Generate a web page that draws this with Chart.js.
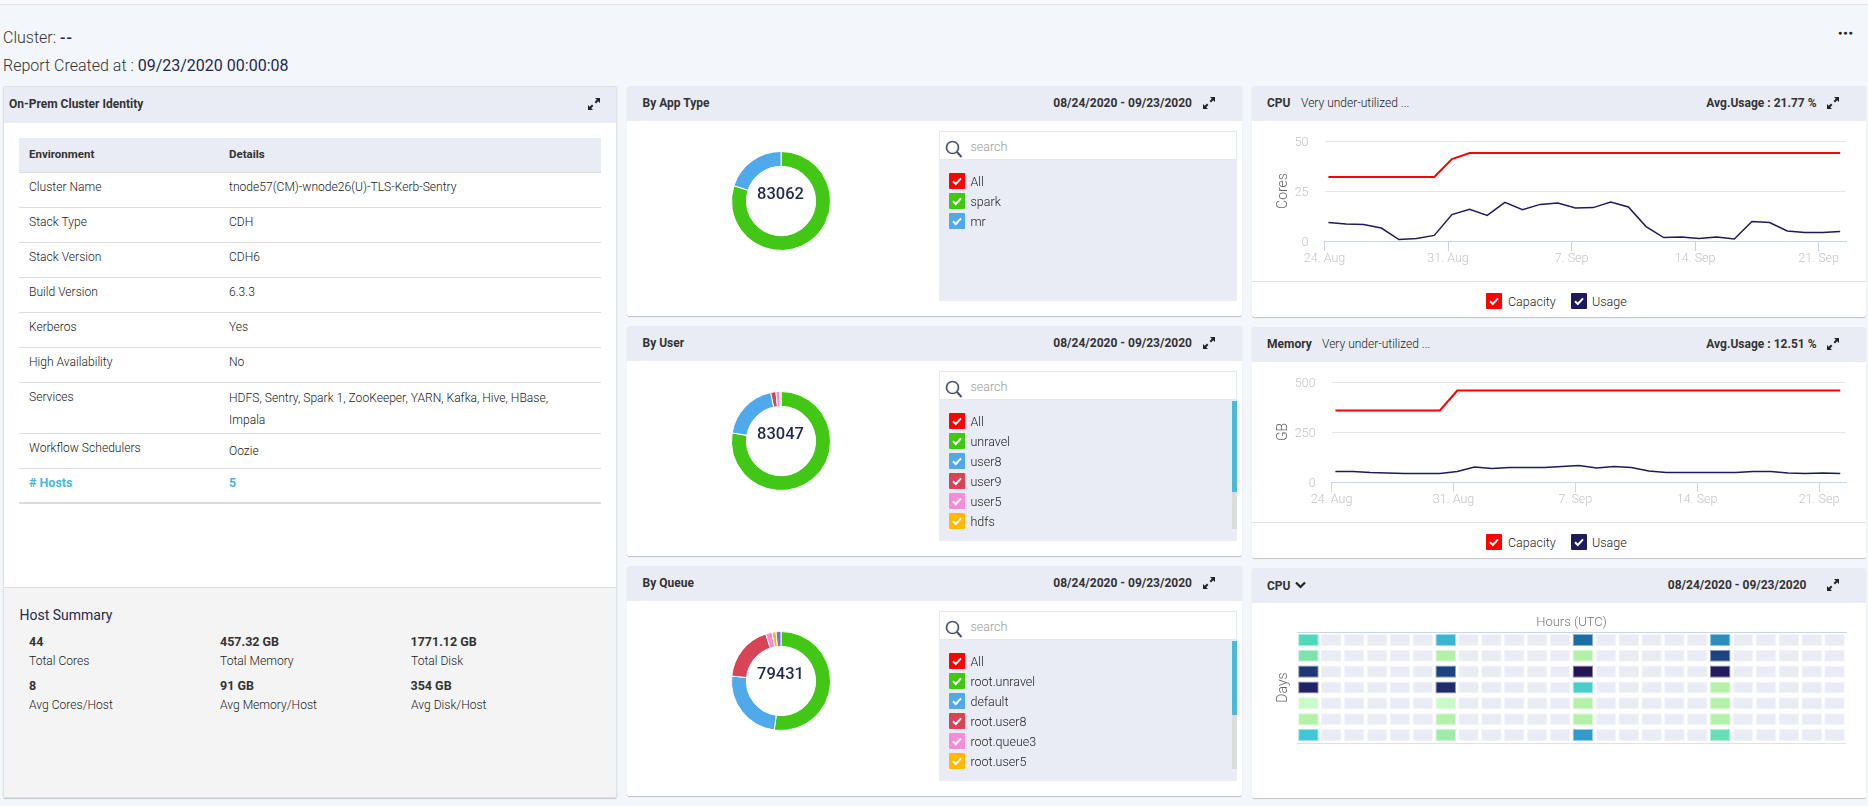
<!DOCTYPE html>
<html>
<head>
<meta charset="utf-8">
<title>Cluster report</title>
<script src="https://cdn.jsdelivr.net/npm/chart.js@4"></script>
<style>
  html, body { margin: 0; padding: 0; }
  body { width: 1868px; height: 806px; overflow: hidden; position: relative; background: #f3f6fa; font-family: Roboto, sans-serif; color: #333; }
  .abs { position: absolute; white-space: nowrap; line-height: 16px; }
  canvas { position: absolute; }
</style>
</head>
<body>
<script>
// Donut data
const appTypeLabels = ['spark', 'mr'];
const appTypeValues = [66450, 16612];
const userLabels = ['unravel', 'user8', 'user9', 'user5', 'hdfs'];
const userValues = [64450, 15820, 1410, 1080, 287];
const queueLabels = ['root.unravel', 'default', 'root.user8', 'root.queue3', 'root.user5'];
const queueValues = [41460, 19380, 14615, 1668, 1033];
const queueHiddenLabels = ['other'];
const queueHiddenValues = [1275];
const sliceColors = ['#43c717', '#4fa9ea', '#d64455', '#f78cd8', '#ffb900', '#7c6fd6'];

// Time series, day offset counted from 24 Aug
const pointDays = [0.22, 1.22, 2.22, 3.22, 4.22, 5.22, 6.22, 7.22, 8.22, 9.22, 10.22, 11.22, 12.22, 13.22, 14.22, 15.22, 16.22, 17.22, 18.22, 19.22, 20.22, 21.22, 22.22, 23.22, 24.22, 25.22, 26.22, 27.22, 28.22, 29.22];
const weekTicks = ['24. Aug', '31. Aug', '7. Sep', '14. Sep', '21. Sep'];
const cpuCapacity = [32, 32, 32, 32, 32, 32, 32, 41, 44, 44, 44, 44, 44, 44, 44, 44, 44, 44, 44, 44, 44, 44, 44, 44, 44, 44, 44, 44, 44, 44];
const cpuUsage = [9.3, 8.5, 8.2, 6.5, 0.7, 1.2, 2.8, 13.2, 15.8, 12.8, 19.3, 15.7, 18.3, 19, 16.5, 16.7, 19.5, 17, 7.2, 1.7, 2, 1.2, 2, 1, 9.8, 9.2, 5, 4.3, 4.2, 4.8];
const memCapacity = [358, 358, 358, 358, 358, 358, 358, 457, 457, 457, 457, 457, 457, 457, 457, 457, 457, 457, 457, 457, 457, 457, 457, 457, 457, 457, 457, 457, 457, 457];
const memUsage = [53, 52, 47, 45, 43, 43, 42, 53, 75, 67, 73, 72, 73, 77, 82, 70, 78, 73, 55, 47, 48, 48, 48, 48, 53, 53, 45, 43, 45, 43];

// Heatmap data, one list per row, null = no reading for that hour
const hourLabels = ['0', '1', '2', '3', '4', '5', '6', '7', '8', '9', '10', '11', '12', '13', '14', '15', '16', '17', '18', '19', '20', '21', '22', '23'];
const heatRow1 = [30, null, null, null, null, null, 44, null, null, null, null, null, 60, null, null, null, null, null, 53, null, null, null, null, null];
const heatRow2 = [20, null, null, null, null, null, 10, null, null, null, null, null, 10, null, null, null, null, null, 70, null, null, null, null, null];
const heatRow3 = [74, null, null, null, null, null, 70, null, null, null, null, null, 90, null, null, null, null, null, 85, null, null, null, null, null];
const heatRow4 = [80, null, null, null, null, null, 77, null, null, null, null, null, 35, null, null, null, null, null, 10, null, null, null, null, null];
const heatRow5 = [0, null, null, null, null, null, 0, null, null, null, null, null, 10, null, null, null, null, null, 10, null, null, null, null, null];
const heatRow6 = [10, null, null, null, null, null, 10, null, null, null, null, null, 10, null, null, null, null, null, 10, null, null, null, null, null];
const heatRow7 = [40, null, null, null, null, null, 14, null, null, null, null, null, 50, null, null, null, null, null, 25, null, null, null, null, null];

// Identity table
const envNames = ['Cluster Name', 'Stack Type', 'Stack Version', 'Build Version', 'Kerberos', 'High Availability'];
const envDetails = ['tnode57(CM)-wnode26(U)-TLS-Kerb-Sentry', 'CDH', 'CDH6', '6.3.3', 'Yes', 'No'];

Chart.defaults.font.family = 'Roboto, sans-serif';
Chart.defaults.animation = false;

const EXPAND = '<svg width="12" height="12" viewBox="0 0 12 12"><path d="M7 0h5v5L10.200 3.200 8 5.400 6.600 4 8.800 1.800zM5 12H0V7l1.800 1.800L4 6.600 5.400 8 3.200 10.200z" fill="#222"/></svg>';
const CHECK = '<svg width="16" height="16" viewBox="0 0 16 16" style="position:absolute;left:0;top:0"><path d="M4 8.300l2.800 2.700L12 5.400" fill="none" stroke="#fff" stroke-width="2"/></svg>';

function text(str, x, y, css) {
  const el = document.createElement('div');
  el.className = 'abs';
  el.style.cssText = `left:${x}px;top:${y - 8}px;${css || ''}`;
  el.innerHTML = str;
  document.body.appendChild(el);
  return el;
}

function rightText(str, right, y, css) {
  return text(str, 0, y, `left:auto;right:${1868 - right}px;${css || ''}`);
}

function box(x, y, w, h, css) {
  const el = document.createElement('div');
  el.style.cssText = `position:absolute;left:${x}px;top:${y}px;width:${w}px;height:${h}px;${css || ''}`;
  document.body.appendChild(el);
  return el;
}

function expandIcon(cx, cy) {
  text(EXPAND, cx - 6, cy + 2, 'height:12px;line-height:0');
}

function checkBox(x, y, color) {
  const el = box(x, y, 16, 16, `background:${color};border-radius:1px`);
  el.innerHTML = CHECK;
}

function panel(x, y, w, h, headH) {
  box(x, y, w, h, 'background:#fff;box-shadow:0 1px 1px rgba(0,0,0,.2);border-radius:2px');
  box(x, y, w, headH, 'background:#e9ecf4;border-radius:2px 2px 0 0');
}

const TITLE = 'font-size:12px;font-weight:700;color:#333';
const BODY = 'font-size:13px;font-weight:300;color:#222;transform:scaleX(.93);transform-origin:left center';
const LIST = 'font-size:12.500px;font-weight:300;color:#222';

// Page heading
box(0, 0, 1868, 4, 'background:#f7f9fc;border-bottom:1px solid #dde1e8');
text('Cluster: <span style="font-weight:500;letter-spacing:1px;color:#1f2a4d">--</span>', 3, 38, 'font-size:16px;font-weight:300;color:#333');
text('Report Created at : <span style="font-weight:400;color:#1f2a4d">09/23/2020 00:00:08</span>', 3, 66, 'font-size:16px;font-weight:300;color:#333');
text('<span style="letter-spacing:1px">&#9679;&#9679;&#9679;</span>', 1838, 33, 'font-size:7px;color:#222');

// Left column
panel(3, 86, 614, 712, 37);
box(3, 86, 614, 712, 'border:1px solid #dfe1e6;box-sizing:border-box;border-radius:2px');
text('On-Prem Cluster Identity', 9, 104, TITLE);
expandIcon(593.500, 104);
box(19, 138, 582, 35, 'background:#e9ecf4;border-bottom:1px solid #ddd;box-sizing:border-box');
text('Environment', 29, 154, 'font-size:11.500px;font-weight:700;color:#333');
text('Details', 229, 154, 'font-size:11.500px;font-weight:700;color:#333');
envNames.forEach((name, i) => {
  const y = 172 + 35 * i;
  text(name, 29, y + 15, BODY);
  text(envDetails[i], 229, y + 15, BODY);
  box(19, y + 35, 582, 1, 'background:#ddd');
});
text('Services', 29, 397, BODY);
text('HDFS, Sentry, Spark 1, ZooKeeper, YARN, Kafka, Hive, HBase,', 229, 398, BODY);
text('Impala', 229, 420, BODY);
box(19, 433, 582, 1, 'background:#ddd');
text('Workflow Schedulers', 29, 448, BODY);
text('Oozie', 229, 451, BODY);
box(19, 468, 582, 1, 'background:#ddd');
text('# Hosts', 29, 483, 'font-size:12.500px;font-weight:700;color:#45b8e0');
text('5', 229, 483, 'font-size:12.500px;font-weight:700;color:#45b8e0');
box(19, 502, 582, 2, 'background:#dcdcdc');
box(4, 587, 612, 210, 'background:#f4f4f5;border-top:1px solid #ddd;box-sizing:border-box');
text('Host Summary', 19.500, 615, 'font-size:14px;font-weight:400;color:#1f2a4d');
const summaryValues = [['44', '457.32 GB', '1771.12 GB'], ['8', '91 GB', '354 GB']];
const summaryNames = [['Total Cores', 'Total Memory', 'Total Disk'], ['Avg Cores/Host', 'Avg Memory/Host', 'Avg Disk/Host']];
const summaryX = [29, 220, 410.500];
summaryValues.forEach((row, r) => row.forEach((val, c) => {
  text(val, summaryX[c], 642 + 44 * r, 'font-size:12.500px;font-weight:700;color:#333');
  text(summaryNames[r][c], summaryX[c], 661 + 44 * r, BODY);
}));

// Middle column donuts
function donutPanel(top, title, total, labels, values, colors, extraValues, thumb) {
  panel(627, top, 615, 230, 35);
  text(title, 642.500, top + 17, TITLE);
  rightText('08/24/2020 - 09/23/2020', 1192, top + 17, TITLE);
  expandIcon(1209, top + 17);

  const cv = document.createElement('canvas');
  cv.style.left = '730.500px';
  cv.style.top = (top + 65) + 'px';
  cv.width = 100;
  cv.height = 100;
  document.body.appendChild(cv);
  new Chart(cv, {
    type: 'doughnut',
    data: {
      labels,
      datasets: [{ data: values.concat(extraValues), backgroundColor: colors, borderColor: '#fff', borderWidth: 1 }]
    },
    options: { responsive: false, cutout: '70%', plugins: { legend: { display: false }, tooltip: { enabled: false } } }
  });
  text(total, 730.500, top + 108, 'width:100px;text-align:center;font-size:16.500px;font-weight:500;color:#1f2a4d');

  box(939, top + 45, 298, 29, 'background:#fff;border:1px solid #e6e8ee;box-sizing:border-box');
  text('<svg width="18" height="18" viewBox="0 0 18 18"><circle cx="7.500" cy="7.500" r="6" fill="none" stroke="#4a5470" stroke-width="1.700"/><path d="M12 12l4.500 5" stroke="#4a5470" stroke-width="2"/></svg>', 945, top + 62, 'height:18px;line-height:0');
  text('search', 970.500, top + 61, 'font-size:12.500px;font-weight:300;color:#999');
  box(939, top + 74, 298, 141, 'background:#e9ecf4');

  ['All'].concat(labels).slice(0, 6).forEach((name, i) => {
    checkBox(949, top + 87 + 20 * i, i === 0 ? '#fe0000' : colors[i - 1]);
    text(name, 970.500, top + 96 + 20 * i, LIST);
  });

  if (thumb) {
    box(1232, top + 75, 5, 128, 'background:#dcdcdc');
    box(1232, top + 75, 5, thumb, 'background:#4ab8d8');
  }
}

donutPanel(86, 'By App Type', '83062', appTypeLabels, appTypeValues, sliceColors, [], 0);
donutPanel(326, 'By User', '83047', userLabels, userValues, sliceColors, [], 91);
donutPanel(566, 'By Queue', '79431', queueLabels.concat(queueHiddenLabels), queueValues, sliceColors, queueHiddenValues, 74);

// Right column line charts
function linePanel(top, title, noteX, avg, yTitle, yMax, yStep, capacity, usage, axisLeft) {
  panel(1252, top, 614, 231, 35);
  text(title, 1267, top + 17, TITLE);
  text('Very under-utilized ...', noteX, top + 17, 'font-size:12px;font-weight:300;color:#222');
  rightText(avg, 1816.500, top + 17, TITLE);
  expandIcon(1833, top + 17);
  box(1252, top + 195, 614, 1, 'background:#dfe1e6');
  checkBox(1486, top + 207, '#fe0000');
  text('Capacity', 1508, top + 216, LIST);
  checkBox(1571, top + 207, '#1f1a5e');
  text('Usage', 1592, top + 216, LIST);

  const cv = document.createElement('canvas');
  cv.style.left = '1252px';
  cv.style.top = (top + 35 + 1) + 'px';
  cv.width = 614;
  cv.height = 158;
  document.body.appendChild(cv);
  const line = (values, color, width) => ({
    data: values.map((y, i) => ({ x: pointDays[i], y })),
    borderColor: color, borderWidth: width, pointRadius: 0, tension: 0, fill: false
  });
  new Chart(cv, {
    type: 'line',
    data: { datasets: [line(capacity, '#fe0000', 2), line(usage, '#1f1a5e', 1.500)] },
    options: {
      responsive: false,
      layout: { padding: { top: 19, right: 20, left: 0, bottom: 0 } },
      plugins: { legend: { display: false }, tooltip: { enabled: false } },
      scales: {
        x: {
          type: 'linear', min: 0, max: 29.550,
          border: { color: '#c5d5ea' },
          grid: { drawOnChartArea: false, color: '#c5d5ea', tickLength: 10 },
          ticks: {
            stepSize: 7, includeBounds: false, maxRotation: 0, autoSkip: false, padding: 0,
            color: '#c4c4c4', font: { size: 12.500, weight: 300 },
            callback: v => weekTicks[v / 7]
          },
          afterFit: s => { s.height = 39; s.paddingLeft = 0; s.paddingRight = 0; }
        },
        y: {
          min: 0, max: yMax,
          border: { display: false },
          grid: { drawTicks: false, color: c => c.tick.value === 0 ? 'transparent' : '#e6e6e6' },
          ticks: { stepSize: yStep, padding: 16, labelOffset: 2, color: '#c4c4c4', font: { size: 12.500, weight: 300 } },
          title: { display: true, text: yTitle, color: '#666', font: { size: 14, weight: 300 }, padding: { top: 23, bottom: 0 } },
          afterFit: s => { s.width = axisLeft; s.paddingTop = 0; s.paddingBottom = 0; }
        }
      }
    }
  });
}

linePanel(86, 'CPU', 1301, 'Avg.Usage : 21.77 %', 'Cores', 50, 25, cpuCapacity, cpuUsage, 72.500);
linePanel(327, 'Memory', 1322, 'Avg.Usage : 12.51 %', 'GB', 500, 250, memCapacity, memUsage, 79.600);

// Heatmap
panel(1252, 568, 614, 230, 35);
text('CPU', 1267, 586, TITLE);
text('<svg width="11" height="8" viewBox="0 0 11 8"><path d="M1 1.500l4.500 4.500L10 1.500" fill="none" stroke="#222" stroke-width="2.200"/></svg>', 1295, 589, 'height:8px;line-height:0');
rightText('08/24/2020 - 09/23/2020', 1806.500, 585, TITLE);
expandIcon(1833, 585);

const heatStops = [[0, [201, 251, 202]], [10, [179, 240, 168]], [20, [128, 227, 173]], [30, [79, 216, 187]], [40, [64, 198, 216]], [50, [47, 156, 203]], [60, [27, 107, 166]], [70, [28, 67, 127]], [80, [31, 34, 100]], [90, [35, 22, 85]]];

function heatColor(v, alpha) {
  let rgb = heatStops[heatStops.length - 1][1];
  for (let i = 0; i < heatStops.length - 1; i++) {
    const [a, ca] = heatStops[i], [b, cb] = heatStops[i + 1];
    if (v >= a && v <= b) {
      rgb = ca.map((c, k) => Math.round(c + (cb[k] - c) * (v - a) / (b - a)));
      break;
    }
  }
  return `rgba(${rgb[0]},${rgb[1]},${rgb[2]},${alpha})`;
}

const heatRows = [heatRow1, heatRow2, heatRow3, heatRow4, heatRow5, heatRow6, heatRow7];
const cellInset = 0.12;
const heatCanvas = document.createElement('canvas');
heatCanvas.style.left = '1252px';
heatCanvas.style.top = '604px';
heatCanvas.width = 614;
heatCanvas.height = 194;
document.body.appendChild(heatCanvas);
new Chart(heatCanvas, {
  type: 'bar',
  data: {
    labels: hourLabels,
    datasets: heatRows.map((row, r) => ({
      data: row.map(() => [r + cellInset, r + 1 - cellInset]),
      backgroundColor: row.map(v => v === null ? '#e9ecf4' : heatColor(v, 1)),
      borderColor: row.map(v => v === null ? '#f3f5f9' : heatColor(v, 0.5)),
      borderWidth: 1,
      borderSkipped: false,
      grouped: false,
      barPercentage: 0.9,
      categoryPercentage: 1
    }))
  },
  options: {
    responsive: false,
    layout: { padding: { top: 0, right: 20, left: 0, bottom: 55 } },
    plugins: { legend: { display: false }, tooltip: { enabled: false } },
    scales: {
      x: {
        position: 'top',
        border: { color: '#c5d5ea' },
        grid: { drawOnChartArea: false, drawTicks: false },
        ticks: { display: false },
        title: { display: true, text: 'Hours (UTC)', color: '#777', font: { size: 13, weight: 300 }, padding: { top: 11, bottom: 0 } },
        afterFit: s => { s.height = 28; }
      },
      y: {
        min: 0, max: 7, reverse: true,
        border: { display: false },
        grid: { drawTicks: false, color: c => c.tick.value === 7 ? '#e0e0e0' : 'transparent' },
        ticks: { display: false, stepSize: 1 },
        title: { display: true, text: 'Days', color: '#666', font: { size: 14, weight: 300 }, padding: { top: 23, bottom: 0 } },
        afterFit: s => { s.width = 45; }
      }
    }
  }
});
</script>
</body>
</html>
